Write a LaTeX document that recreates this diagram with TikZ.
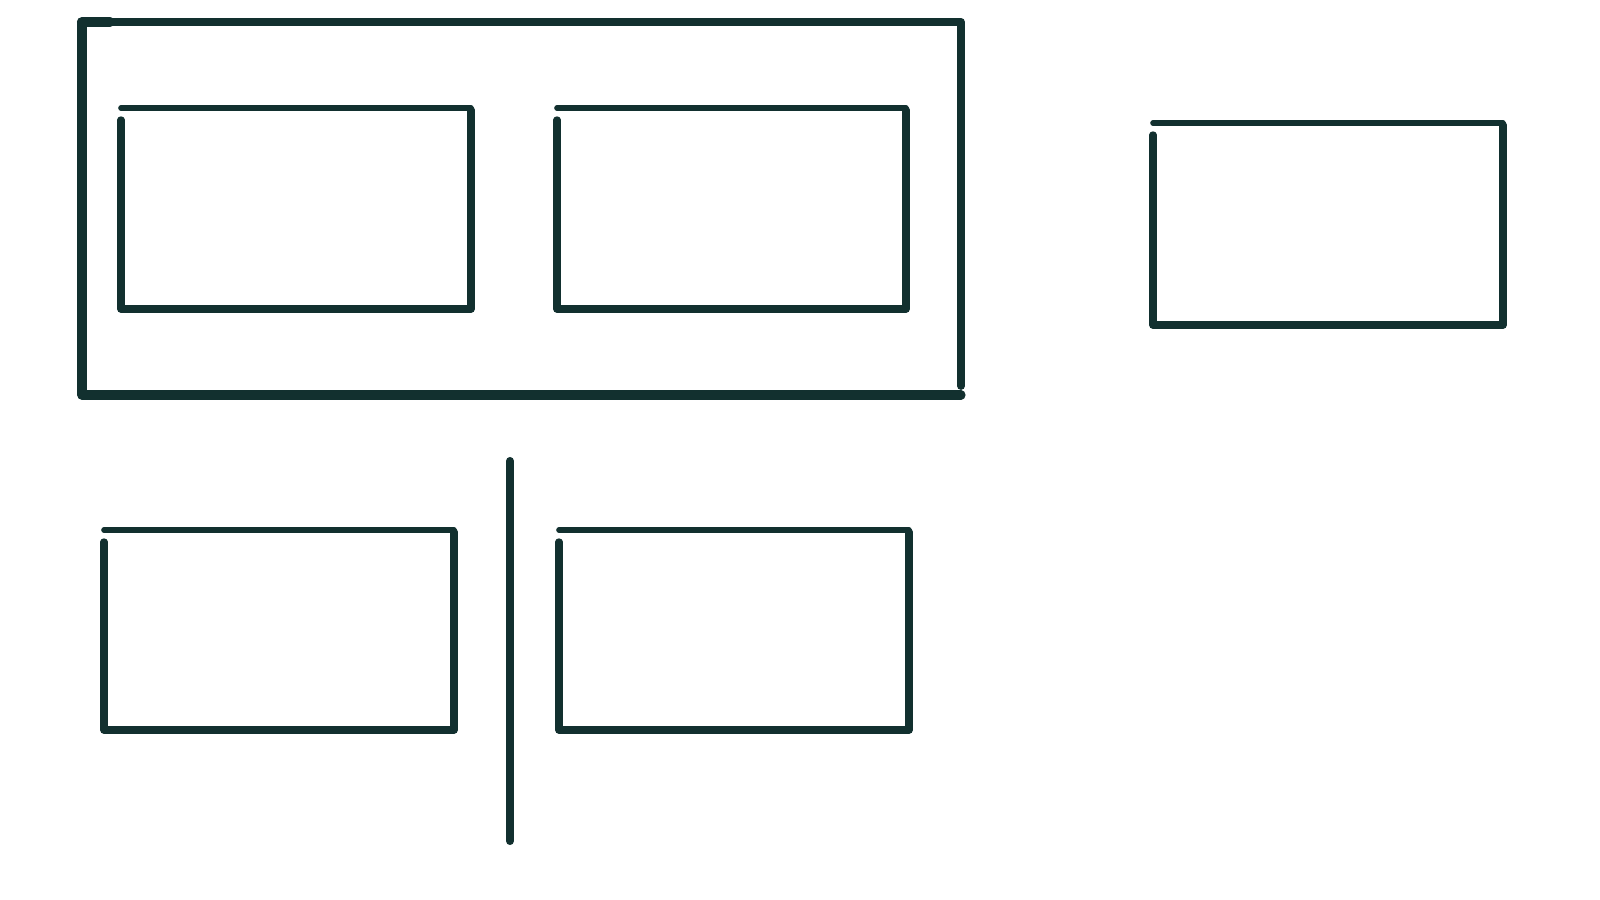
\documentclass[tikz,border=0pt]{standalone}
\definecolor{ink}{HTML}{12302F}
\begin{document}
\begin{tikzpicture}[x=0.01cm,y=-0.01cm,
    lid/.style={draw=ink,line width=1.6pt,line cap=round},
    wall/.style={draw=ink,line width=2.1pt,line cap=round,line join=round}]

  \useasboundingbox (0,0) rectangle (1600,900);

  % outer frame
  \draw[wall,line width=2.9pt] (82,22) -- (110,22);
  \draw[wall,line width=2.2pt] (110,22) -- (961,22) -- (961,386);
  \draw[wall,line width=2.6pt] (82,22) -- (82,395) -- (961,395);

  % upper boxes
  \draw[lid]  (121,108) -- (471,108);
  \draw[wall] (471,110) -- (471,309) -- (121,309) -- (121,120);

  \draw[lid]  (557,108) -- (906,108);
  \draw[wall] (906,110) -- (906,309) -- (557,309) -- (557,120);

  \draw[lid]  (1153,123) -- (1503,123);
  \draw[wall] (1503,125) -- (1503,325) -- (1153,325) -- (1153,135);

  % lower boxes
  \draw[lid]  (104,530) -- (454,530);
  \draw[wall] (454,532) -- (454,730) -- (104,730) -- (104,542);

  \draw[lid]  (559,530) -- (909,530);
  \draw[wall] (909,532) -- (909,730) -- (559,730) -- (559,542);

  % divider
  \draw[wall,line width=2.3pt] (510,461) -- (510,841);

\end{tikzpicture}
\end{document}
